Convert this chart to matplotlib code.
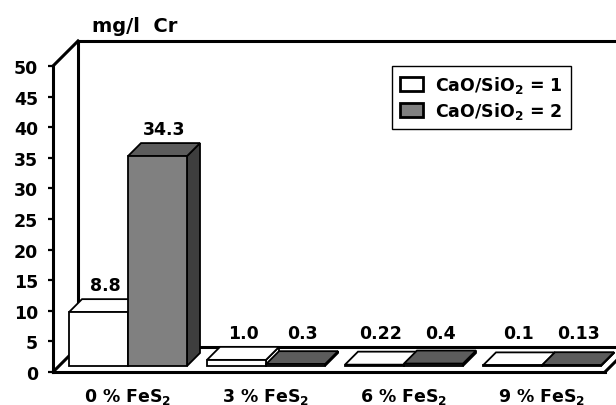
import matplotlib
matplotlib.use('Agg')
import matplotlib.pyplot as plt
from matplotlib.patches import Polygon, Patch

plt.rcParams['font.family'] = ['DejaVu Sans']
plt.rcParams['font.weight'] = 'bold'
plt.rcParams['mathtext.fontset'] = 'dejavusans'
plt.rcParams['mathtext.default'] = 'bf'

# data
categories = ['0 % FeS$_2$', '3 % FeS$_2$', '6 % FeS$_2$', '9 % FeS$_2$']
cr_basic1 = [8.8, 1.0, 0.22, 0.1]
cr_basic2 = [34.3, 0.3, 0.4, 0.13]
text_basic1 = ['8.8', '1.0', '0.22', '0.1']
text_basic2 = ['34.3', '0.3', '0.4', '0.13']
series = ['CaO/SiO$_2$ = 1', 'CaO/SiO$_2$ = 2']
yticks = list(range(0, 55, 5))

W, H = 616, 406
fig = plt.figure(figsize=(W / 100, H / 100), dpi=100)
ax = fig.add_axes([0, 0, 1, 1])

# one category = 138 px, one mg/l = 6.12 px
PX_X, PX_Y = 138.0, 6.12
ax.set_xlim(-122 / PX_X, (W - 122) / PX_X)
ax.set_ylim(-33 / PX_Y, (H - 33) / PX_Y)


def d(px):
    # depth offset (pixels up-right) in data units
    return px / PX_X, px / PX_Y


LW = 2.2
x0, x1 = -0.5, len(categories) - 0.5
ymax = yticks[-1]

# back wall + floor
wx, wy = d(25)
kw = dict(color='black', lw=LW, solid_capstyle='projecting', zorder=1, clip_on=False)
ax.plot([x0, x0 + wx], [ymax, ymax + wy], **kw)
ax.plot([x0 + wx, x0 + wx], [wy, ymax + wy], **kw)
ax.plot([x0 + wx, x1 + wx], [ymax + wy, ymax + wy], **kw)
ax.plot([x0 + wx, x1 + wx], [wy, wy], **kw)
ax.plot([x0, x0 + wx], [0, wy], **kw)
ax.plot([x1, x1 + wx], [0, wy], **kw)

# spines as front axes
for s in ['top', 'right']:
    ax.spines[s].set_visible(False)
ax.spines['left'].set_position(('data', x0))
ax.spines['left'].set_bounds(0, ymax)
ax.spines['bottom'].set_position(('data', 0))
ax.spines['bottom'].set_bounds(x0, x1)
for s in ['left', 'bottom']:
    ax.spines[s].set_linewidth(LW)
    ax.spines[s].set_zorder(5)

ax.set_yticks(yticks)
ax.tick_params(axis='y', length=3.8, width=1.6, pad=7, labelsize=12.5)

fx, fy = d(6)
bx, by = d(13)
ax.set_xticks([i + fx for i in range(len(categories))])
ax.set_xticklabels(categories)
ax.tick_params(axis='x', length=0, pad=10, labelsize=12.5)

bw = 59 / PX_X


def bar3d(left, h, face, top, side, z):
    xl = left + fx
    xr = xl + bw
    ax.add_patch(Polygon([(xr, fy), (xr + bx, fy + by), (xr + bx, fy + h + by), (xr, fy + h)],
                         closed=True, facecolor=side, edgecolor='black', lw=1.3, zorder=z))
    ax.add_patch(Polygon([(xl, fy + h), (xr, fy + h), (xr + bx, fy + h + by), (xl + bx, fy + h + by)],
                         closed=True, facecolor=top, edgecolor='black', lw=1.3, zorder=z))
    ax.bar(xl, h, bw, bottom=fy, align='edge', color=face, edgecolor='black', lw=1.3, zorder=z)


for i in range(len(categories)):
    bar3d(i - bw, cr_basic1[i], 'white', 'white', 'white', 2 + i)
    bar3d(i, cr_basic2[i], '#808080', '#5c5c5c', '#3e3e3e', 2.5 + i)
    for left, v, t in [(i - bw, cr_basic1[i], text_basic1[i]), (i, cr_basic2[i], text_basic2[i])]:
        ax.text(left + fx + bw / 2 + bx / 2, max(v, 1.0) + fy + 27 / PX_Y, t,
                ha='center', va='center', fontsize=12.5, zorder=10)

handles = [Patch(facecolor='white', edgecolor='black', lw=2),
           Patch(facecolor='#808080', edgecolor='black', lw=2)]
leg = ax.legend(handles=handles, labels=series, loc='upper left',
                bbox_to_anchor=(392 / W, 1 - 67 / H), bbox_transform=fig.transFigure,
                fontsize=12.5, fancybox=False, edgecolor='black', framealpha=1,
                borderpad=0.45, handlelength=1.35, handleheight=0.85,
                handletextpad=0.7, labelspacing=0.3, borderaxespad=0)
leg.get_frame().set_linewidth(1.0)

fig.text(92 / W, 1 - 32 / H, 'mg/l  Cr', fontsize=14, va='baseline', ha='left')

fig.savefig('out.png', dpi=100)
